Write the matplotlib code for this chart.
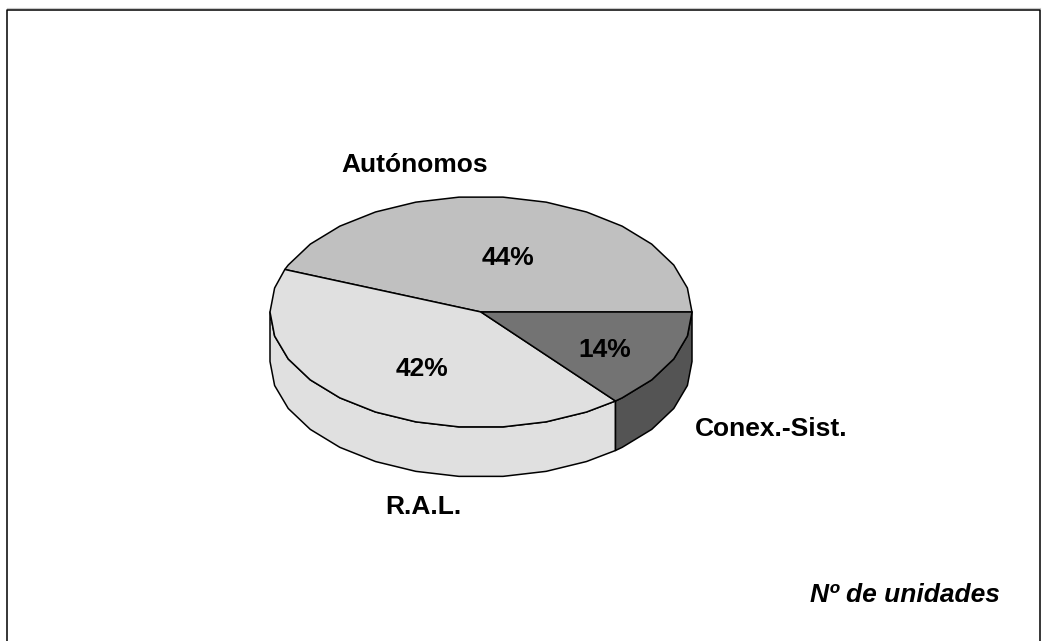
import numpy as np
import matplotlib
matplotlib.use("Agg")
import matplotlib.pyplot as plt

plt.rcParams['font.family'] = ['Liberation Sans', 'DejaVu Sans']

# datos
categorias = ['Autónomos', 'R.A.L.', 'Conex.-Sist.']
valores = [44, 42, 14]
grises = ['#c0c0c0', '#e0e0e0', '#737373']
gris_lateral = {'R.A.L.': '#e0e0e0', 'Conex.-Sist.': '#545454'}

# geometria de la tarta, en pixeles
cx, cy = 481, 312
rx, ry = 211, 115.5
grosor = 49.5
paso = 12


def arco(a0, a1, dy=0):
    # malla fija de angulos para que cara y pared compartan vertices
    medios = [a for a in np.arange(0, 361, paso) if min(a0, a1) < a < max(a0, a1)]
    a = np.array([a0] + sorted(medios, reverse=a1 < a0) + [a1], dtype=float)
    t = np.radians(a)
    return cx + rx * np.cos(t), cy - ry * np.sin(t) + dy


fig = plt.figure(figsize=(10.42, 6.41), dpi=100)
ax = fig.add_axes([0, 0, 1, 1])
ax.set_xlim(0, 1042)
ax.set_ylim(641, 0)
ax.axis('off')

# marco
ax.plot([6.5, 1039.5], [8, 8], color='#c8c8c8', lw=0.8)
ax.plot([6.5, 6.5, 1039.5, 1039.5], [641, 10, 10, 641], color='black', lw=1.1)

# limites de cada sector
fin = np.cumsum(valores) * 3.6
inicio = np.concatenate(([0], fin[:-1]))

# pared lateral (solo la mitad de abajo se ve)
for nombre, a0, a1 in zip(categorias, inicio, fin):
    a0v, a1v = max(a0, 180), min(a1, 360)
    if a1v <= a0v:
        continue
    xs, ys = arco(a0v, a1v)
    xi, yi = arco(a1v, a0v, grosor)
    ax.fill(np.r_[xs, xi], np.r_[ys, yi], facecolor=gris_lateral[nombre],
            edgecolor='black', lw=1.1, joinstyle='round')

# cara superior
for a0, a1, color in zip(inicio, fin, grises):
    xs, ys = arco(a0, a1)
    ax.fill(np.r_[cx, xs], np.r_[cy, ys], facecolor=color,
            edgecolor='black', lw=1.1, joinstyle='round')

# textos
fs = 19
estilo = dict(ha='center', va='baseline', fontsize=fs, fontweight='bold')
ax.text(415, 172, categorias[0], **estilo)
ax.text(423.5, 514, categorias[1], **estilo)
ax.text(771, 436, categorias[2], **estilo)
ax.text(508.5, 265, '%d%%' % valores[0], **estilo)
ax.text(422, 376.5, '%d%%' % valores[1], **estilo)
ax.text(605, 357, '%d%%' % valores[2], **estilo)
ax.text(1000, 602, 'Nº de unidades', ha='right', va='baseline', fontsize=fs,
        fontweight='bold', fontstyle='italic')

fig.savefig('out.png', dpi=100)
